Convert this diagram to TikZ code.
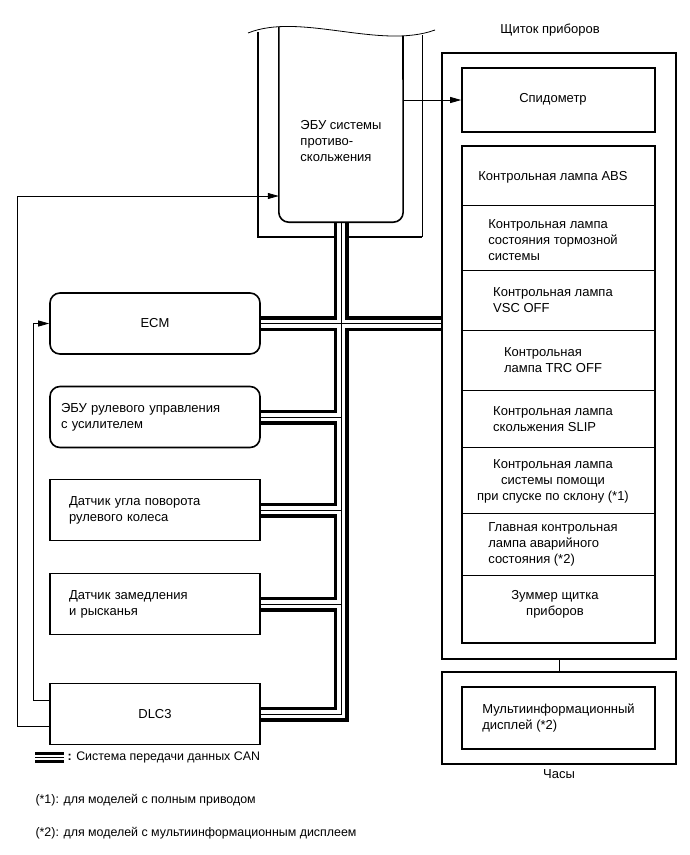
\documentclass[tikz,border=0pt]{standalone}
\usepackage{fontspec}
\setmainfont{Liberation Sans}
\usetikzlibrary{arrows.meta, calc, positioning, backgrounds}
\tikzset{%
    sec/.style={line width = 0.8pt},
    seca/.style={line width = 0.8pt, -{Triangle[length=11pt, width=6pt]}},
    pri/.style={line width = 1.6pt},
    blq/.style={rectangle, draw, line width=1.6pt, minimum width=210pt, minimum height=61pt, inner sep=0pt, text width=172pt, align=left},
    blqr/.style={blq, rounded corners=10pt},
    pan/.style={rectangle, draw, line width=1.6pt, inner sep=0pt},
    lam/.style={align=left, inner sep=0pt},
    nota/.style={anchor=west, font=\fontsize{12.4pt}{15pt}\selectfont},
}

\begin{document}
\begin{tikzpicture}[x=1pt, y=-1pt, font=\fontsize{13pt}{16pt}\selectfont]
    \useasboundingbox (0,0) rectangle (690,855);
    % ECU antiskid
    \node[minimum width=124pt, minimum height=195pt, inner sep=0pt] (ecu) at (341,124.5) {};
    \node[align=left] (ecut) at (341,141) {ЭБУ системы\\противо-\\скольжения};
    \draw[pri, rounded corners=10pt] (ecu.north west) -- (ecu.south west) -- (ecu.south east) -- (403,36);
    \draw[sec] (248,33) .. controls (300,12) and (380,50) .. (435,30);
    % instrument panel
    \node (tit) at (550,30) {Щиток приборов};
    \node[pan, minimum width=234pt, minimum height=606pt] (panel) at (559,356) {};
    \node[pan, minimum width=193pt, minimum height=64pt] (spd) at (558.5,100) {};
    \node (spdt) at (553,99) {Спидометр};
    \node[pan, minimum width=193pt, minimum height=497pt] (lamps) at (558.5,394.5) {};
    \foreach \y in {205,270,330,390,447,513,575}
        \draw[sec] (lamps.west |- 0,\y) -- (lamps.east |- 0,\y);
    \node[lam] (l1) at (553,177) {Контрольная лампа ABS};
    \node[lam] (l2) at (553,240) {Контрольная лампа\\состояния тормозной\\системы};
    \node[lam] (l3) at (553,300) {Контрольная лампа\\VSC OFF};
    \node[lam] (l4) at (553,360) {Контрольная\\лампа TRC OFF};
    \node[lam] (l5) at (553,419) {Контрольная лампа\\скольжения SLIP};
    \node[lam, align=center] (l6) at (553,481) {Контрольная лампа\\системы помощи\\при спуске по склону (*1)};
    \node[lam] (l7) at (553,544) {Главная контрольная\\лампа аварийного\\состояния (*2)};
    \node[lam, align=center] (l8) at (555,604) {Зуммер щитка\\приборов};
    % clock
    \node[pan, minimum width=234pt, minimum height=92pt] (clk) at (559,718) {};
    \node[pan, minimum width=193pt, minimum height=62pt, align=left] (mid) at (558.5,718) {Мультиинформационный\\дисплей (*2)};
    \node[below=1pt of clk] (hrs) {Часы};
    \draw[sec] (panel.south) -- (clk.north);
    % left units
    \node[blqr, align=center] (ecm) at (155,323.5) {ECM};
    \node[blqr, text width=188pt] (eps) at (155,417) {ЭБУ рулевого управления\\с усилителем};
    \node[blq] (sas) at (155,510) {Датчик угла поворота\\рулевого колеса};
    \node[blq] (yaw) at (155,604) {Датчик замедления\\и рысканья};
    \node[blq, align=center] (dlc) at (155,714) {DLC3};
    % CAN bus
    \begin{pgfonlayer}{background}
        \draw[pri] (258,31.5) |- (422,237);
        \draw[line width=1pt] (422,237) -- (422,35);
        \foreach \w/\c in {15pt/black, 8pt/white, 0.8pt/black}{
            \draw[line width=\w, \c] (ecu.south) -- (ecu.south |- ecm.east)
                (ecm.east) -- (ecm.east -| panel.west)
                (ecu.south |- ecm.east) -- (ecu.south |- dlc.east) -- (dlc.east)
                (eps.east) -- (eps.east -| ecu.south)
                (sas.east) -- (sas.east -| ecu.south)
                (yaw.east) -- (yaw.east -| ecu.south);
        }
    \end{pgfonlayer}
    % signal lines
    \coordinate (la) at (17,196);
    \coordinate (lb) at (33,0);
    \draw[seca] (spd.west -| ecu.east) -- (spd.west);
    \draw[seca] ([yshift=-12pt]dlc.west) -| (la) -- (la -| ecu.west);
    \draw[seca] ([yshift=14pt]dlc.west) -| (lb |- ecm.west) -- (ecm.west);
    % legend
    \coordinate (lg) at (35,757);
    \foreach \w/\c in {11pt/black, 5pt/white, 1pt/black}
        \draw[line width=\w, \c] (lg) -- ++(29,0);
    \node[nota] (cant) at (64,757) {\textbf{:} Система передачи данных CAN};
    \node[nota] (n1) at (32,800) {(*1): для моделей с полным приводом};
    \node[nota] (n2) at (32,833) {(*2): для моделей с мультиинформационным дисплеем};
\end{tikzpicture}
\end{document}
